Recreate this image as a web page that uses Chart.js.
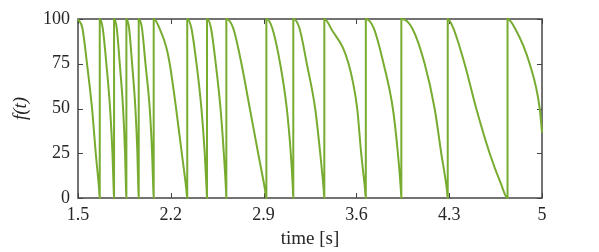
<!DOCTYPE html>
<html>
<head>
<meta charset="utf-8">
<script src="https://cdn.jsdelivr.net/npm/chart.js@4/dist/chart.umd.min.js"></script>
<style>
html, body { margin: 0; padding: 0; background: #fff; }
#wrap { width: 599px; height: 252px; }
</style>
</head>
<body>
<div id="wrap"><canvas id="sawChart"></canvas></div>
<script>
// values, segment by segment (drop from 100 to 0, then jump back)
const timeS = [
    1.500, 1.533, 1.568, 1.606, 1.634, 1.659, 1.664,
    1.664, 1.686, 1.714, 1.742, 1.760, 1.769, 1.772,
    1.772, 1.792, 1.815, 1.840, 1.855, 1.862, 1.865,
    1.865, 1.885, 1.908, 1.933, 1.948, 1.955, 1.958,
    1.958, 1.982, 2.009, 2.041, 2.059, 2.068, 2.071,
    2.071, 2.125, 2.167, 2.192, 2.240, 2.283, 2.317, 2.324,
    2.324, 2.355, 2.394, 2.431, 2.456, 2.470, 2.473,
    2.473, 2.503, 2.539, 2.575, 2.600, 2.616, 2.619,
    2.619, 2.670, 2.733, 2.796, 2.859, 2.910, 2.921,
    2.921, 2.965, 3.025, 3.075, 3.105, 3.121, 3.124,
    3.124, 3.170, 3.226, 3.289, 3.327, 3.353, 3.358,
    3.358, 3.422, 3.498, 3.541, 3.573, 3.606, 3.636, 3.665, 3.671,
    3.671, 3.730, 3.805, 3.875, 3.913, 3.935, 3.939,
    3.939, 4.020, 4.115, 4.190, 4.240, 4.282, 4.289,
    4.289, 4.330, 4.416, 4.504, 4.605, 4.690, 4.740,
    4.740, 4.795, 4.907, 4.983, 5.000
];
const fValues = [
    100, 95, 75, 50, 25, 5, 0,
    100, 95, 75, 50, 25, 5, 0,
    100, 95, 75, 50, 25, 5, 0,
    100, 95, 75, 50, 25, 5, 0,
    100, 95, 75, 50, 25, 5, 0,
    100, 93, 84, 75, 50, 25, 5, 0,
    100, 95, 75, 50, 25, 5, 0,
    100, 95, 75, 50, 25, 5, 0,
    100, 95, 75, 50, 25, 5, 0,
    100, 95, 75, 50, 25, 5, 0,
    100, 95, 75, 50, 25, 5, 0,
    100, 93, 84, 75, 65, 50, 25, 5, 0,
    100, 95, 75, 50, 25, 5, 0,
    100, 95, 75, 50, 25, 5, 0,
    100, 95, 75, 50, 25, 8, 0,
    100, 95, 75, 50, 36.6
];
const xTicks = [1.5, 2.2, 2.9, 3.6, 4.3, 5];
const yTicks = [0, 25, 50, 75, 100];

const AXIS_COLOR = '#262626';
const FRAME_COLOR = '#444444';
const LINE_GREEN = '#77AC30';
const SERIF = "'Liberation Serif', 'DejaVu Serif', serif";

// MATLAB-style box with inward ticks on all four sides
const frameTicks = {
    id: 'frameTicks',
    beforeDatasetsDraw(chart) {
        const { ctx, chartArea: a, scales: { x, y } } = chart;
        const len = 5;
        ctx.save();
        ctx.strokeStyle = FRAME_COLOR;
        ctx.lineWidth = 1;
        ctx.beginPath();
        xTicks.forEach(v => {
            const px = Math.round(x.getPixelForValue(v)) + 0.5;
            ctx.moveTo(px, a.bottom);
            ctx.lineTo(px, a.bottom - len);
            ctx.moveTo(px, a.top);
            ctx.lineTo(px, a.top + len);
        });
        yTicks.forEach(v => {
            const py = Math.round(y.getPixelForValue(v)) + 0.5;
            ctx.moveTo(a.left, py);
            ctx.lineTo(a.left + len, py);
            ctx.moveTo(a.right, py);
            ctx.lineTo(a.right - len, py);
        });
        ctx.stroke();
        ctx.lineWidth = 1.5;
        ctx.strokeRect(a.left, a.top, a.right - a.left, a.bottom - a.top);
        ctx.restore();
    }
};

new Chart(document.getElementById('sawChart'), {
    type: 'line',
    data: {
        datasets: [{
            data: timeS.map((t, i) => ({ x: t, y: fValues[i] })),
            borderColor: LINE_GREEN,
            borderWidth: 2,
            pointRadius: 0,
            cubicInterpolationMode: 'monotone',
            fill: false,
            clip: false
        }]
    },
    options: {
        responsive: true,
        maintainAspectRatio: false,
        animation: false,
        events: [],
        layout: { padding: { top: 19, right: 57, left: 0, bottom: 0 } },
        plugins: {
            legend: { display: false },
            tooltip: { enabled: false }
        },
        scales: {
            x: {
                type: 'linear',
                min: 1.5,
                max: 5,
                afterBuildTicks: scale => {
                    scale.ticks = xTicks.map(v => ({ value: v }));
                },
                afterFit: scale => { scale.height = 54; },
                grid: { display: false, drawTicks: false },
                border: { display: false },
                ticks: {
                    padding: 6,
                    color: AXIS_COLOR,
                    font: { family: SERIF, size: 18 },
                    maxRotation: 0,
                    callback: v => String(v)
                },
                title: {
                    display: true,
                    text: 'time [s]',
                    color: AXIS_COLOR,
                    font: { family: SERIF, size: 19 },
                    padding: { top: 0, bottom: 2 }
                }
            },
            y: {
                min: 0,
                max: 100,
                afterBuildTicks: scale => {
                    scale.ticks = yTicks.map(v => ({ value: v }));
                },
                afterFit: scale => { scale.width = 78; },
                grid: { display: false, drawTicks: false },
                border: { display: false },
                ticks: {
                    padding: 8,
                    color: AXIS_COLOR,
                    font: { family: SERIF, size: 18 }
                },
                title: {
                    display: true,
                    text: 'f(t)',
                    color: AXIS_COLOR,
                    font: { family: SERIF, size: 19, style: 'italic' },
                    padding: { top: 10, bottom: 0 }
                }
            }
        }
    },
    plugins: [frameTicks]
});
</script>
</body>
</html>
